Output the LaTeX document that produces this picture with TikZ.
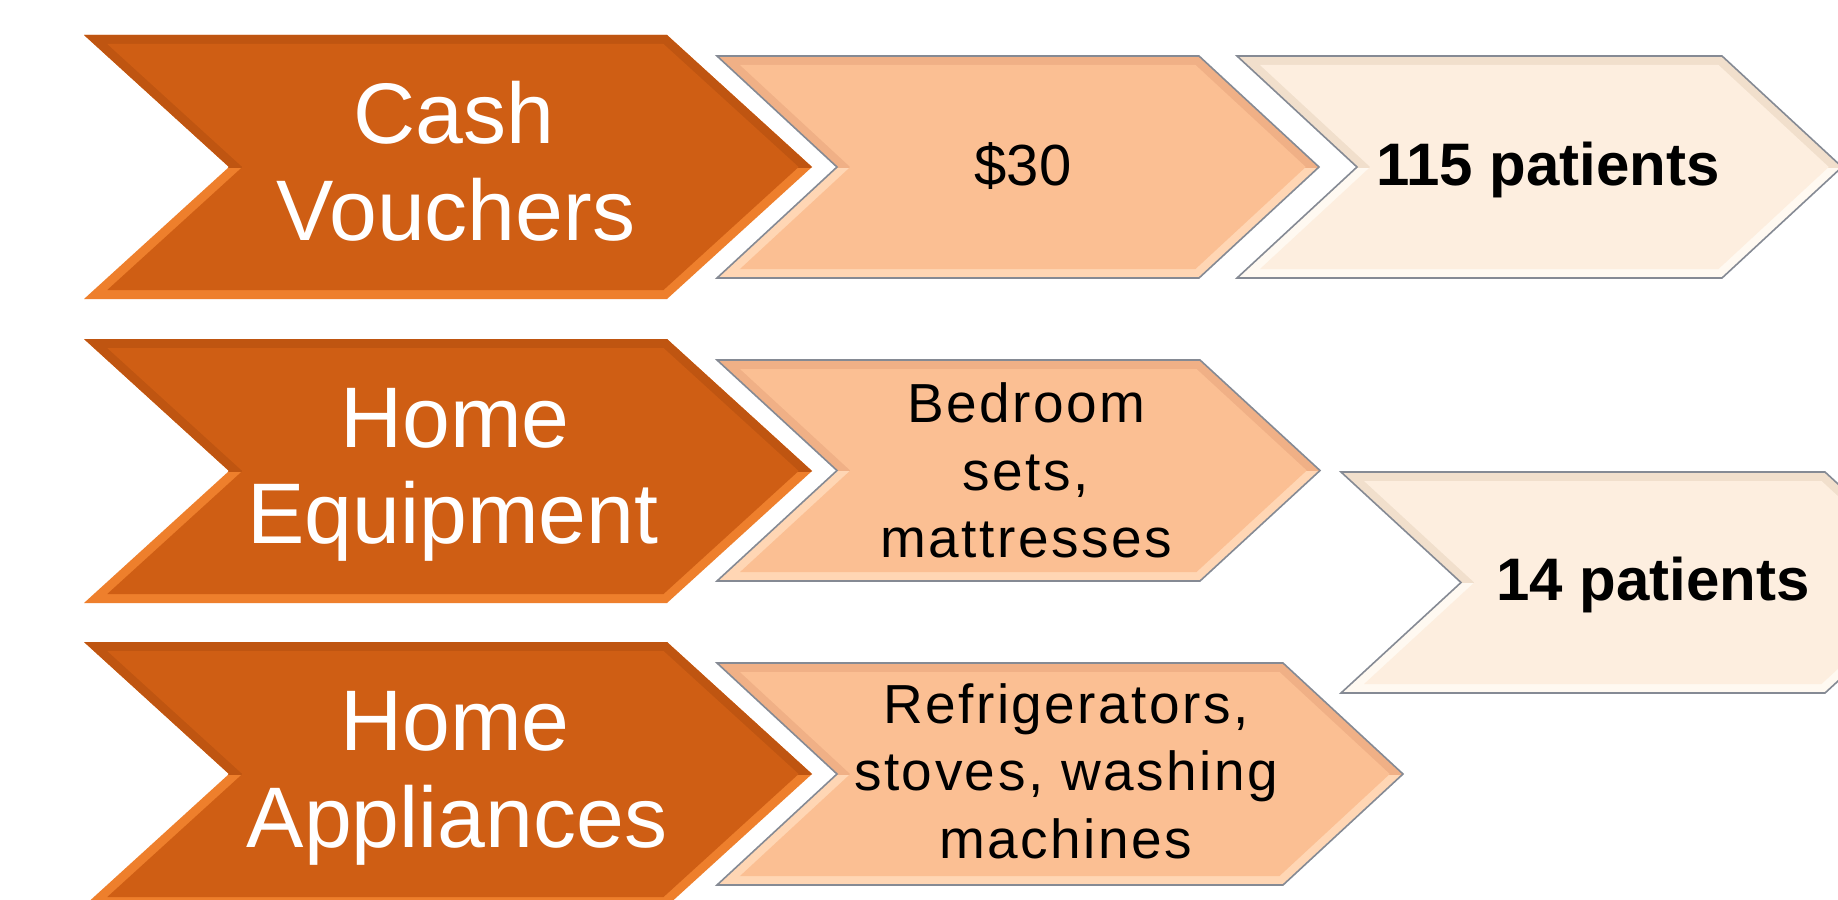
\documentclass[tikz,border=0pt]{standalone}
\usepackage{fontspec}
\setmainfont{Liberation Sans}
\newfontfamily\spacedfont{Liberation Sans}[LetterSpace=4.5]
\usetikzlibrary{calc}

\definecolor{rustmain}{HTML}{CF5E14}
\definecolor{rustup}{HTML}{BF5511}
\definecolor{rustlow}{HTML}{EE7F2C}
\definecolor{peachmain}{HTML}{FBBF93}
\definecolor{peachup}{HTML}{F0B086}
\definecolor{peachlow}{HTML}{FFD6B4}
\definecolor{creammain}{HTML}{FDEEDF}
\definecolor{creamup}{HTML}{F1DFCC}
\definecolor{creamlow}{HTML}{FFF9F1}
\definecolor{edgegray}{HTML}{858A94}

% Bevelled chevron: #1 left x, #2 top y, #3 bottom y, #4 x of the shoulder,
% #5 point depth, #6 face colour, #7 upper bevel, #8 lower bevel, #9 outline
\newcommand\chevshape[9]{%
  \pgfmathsetmacro\chvMid{(#2+#3)/2}%
  \pgfmathsetmacro\chvHalf{(#3-#2)/2}%
  \pgfmathsetmacro\chvRat{#5/\chvHalf}%
  \pgfmathsetmacro\chvB{9}%
  \pgfmathsetmacro\chvH{\chvB*100*sqrt((#5/100)^2+(\chvHalf/100)^2)/\chvHalf}%
  \pgfmathsetmacro\chvA{\chvH+\chvB*\chvRat}%
  \pgfmathsetmacro\chvC{\chvB*\chvRat-\chvH}%
  \fill[#8] (#1,#2) -- (#4,#2) -- ({#4+#5},\chvMid) -- (#4,#3) -- (#1,#3)
    -- ({#1+#5},\chvMid) -- cycle;
  \begin{scope}
    \clip ({#1-5},{#2-5}) rectangle ({#4+#5+5},\chvMid);
    \fill[#7] (#1,#2) -- (#4,#2) -- ({#4+#5},\chvMid) -- (#4,#3) -- (#1,#3)
      -- ({#1+#5},\chvMid) -- cycle;
  \end{scope}
  \fill[#6] ({#1+\chvA},{#2+\chvB}) -- ({#4+\chvC},{#2+\chvB})
    -- ({#4+#5-\chvH},\chvMid) -- ({#4+\chvC},{#3-\chvB})
    -- ({#1+\chvA},{#3-\chvB}) -- ({#1+#5+\chvH},\chvMid) -- cycle;
  \draw[#9] (#1,#2) -- (#4,#2) -- ({#4+#5},\chvMid) -- (#4,#3) -- (#1,#3)
    -- ({#1+#5},\chvMid) -- cycle;
}

\tikzset{
  headtext/.style={text=white, anchor=base, inner sep=0pt,
    font=\fontsize{86}{96}\selectfont},
  itemtext/.style={text=black, anchor=base, inner sep=0pt,
    font=\spacedfont\fontsize{55}{67}\selectfont},
  pricetext/.style={text=black, anchor=base, inner sep=0pt,
    font=\fontsize{58}{67}\selectfont},
  counttext/.style={text=black, anchor=base, inner sep=0pt,
    font=\bfseries\fontsize{60}{67}\selectfont},
  nooutline/.style={draw=none},
  grayoutline/.style={draw=edgegray, line width=1.6pt, line join=miter},
}

\begin{document}
\begin{tikzpicture}[x=1pt, y=-1pt]
  \useasboundingbox (0,0) rectangle (1838,899);
  \clip (0,0) rectangle (1838,899);
  \fill[white] (0,0) rectangle (1838,899);

  % category chevrons
  \chevshape{84}{35}{299}{667}{145}{rustmain}{rustup}{rustlow}{nooutline}
  \chevshape{84}{339}{603}{667}{145}{rustmain}{rustup}{rustlow}{nooutline}
  \chevshape{84}{642}{906}{667}{145}{rustmain}{rustup}{rustlow}{nooutline}

  % item chevrons
  \chevshape{717}{56}{278}{1199}{120}{peachmain}{peachup}{peachlow}{grayoutline}
  \chevshape{717}{360}{581}{1200}{120}{peachmain}{peachup}{peachlow}{grayoutline}
  \chevshape{717}{663}{885}{1283}{120}{peachmain}{peachup}{peachlow}{grayoutline}

  % patient-count chevrons
  \chevshape{1237}{56}{278}{1722}{120}{creammain}{creamup}{creamlow}{grayoutline}
  \chevshape{1341}{472}{693}{1825}{120}{creammain}{creamup}{creamlow}{grayoutline}

  % labels
  \node[headtext] (cashA) at (454,143) {Cash};
  \node[headtext] (cashB) at (456,240) {Vouchers};
  \node[headtext] (equipA) at (455,447) {Home};
  \node[headtext] (equipB) at (453,543) {Equipment};
  \node[headtext] (applA) at (455,750) {Home};
  \node[headtext] (applB) at (457,847) {Appliances};

  \node[pricetext] (price) at (1023,185) {\$30};
  \node[itemtext] (bedA) at (1026,422) {Bedroom};
  \node[itemtext] (bedB) at (1026,490) {sets,};
  \node[itemtext] (bedC) at (1026,557) {mattresses};
  \node[itemtext] (fridgeA) at (1066,723) {Refrigerators,};
  \node[itemtext] (fridgeB) at (1066,790) {stoves, washing};
  \node[itemtext] (fridgeC) at (1066,858) {machines};

  \node[counttext] (countA) at (1548,185) {115 patients};
  \node[counttext] (countB) at (1653,600) {14 patients};
\end{tikzpicture}
\end{document}
